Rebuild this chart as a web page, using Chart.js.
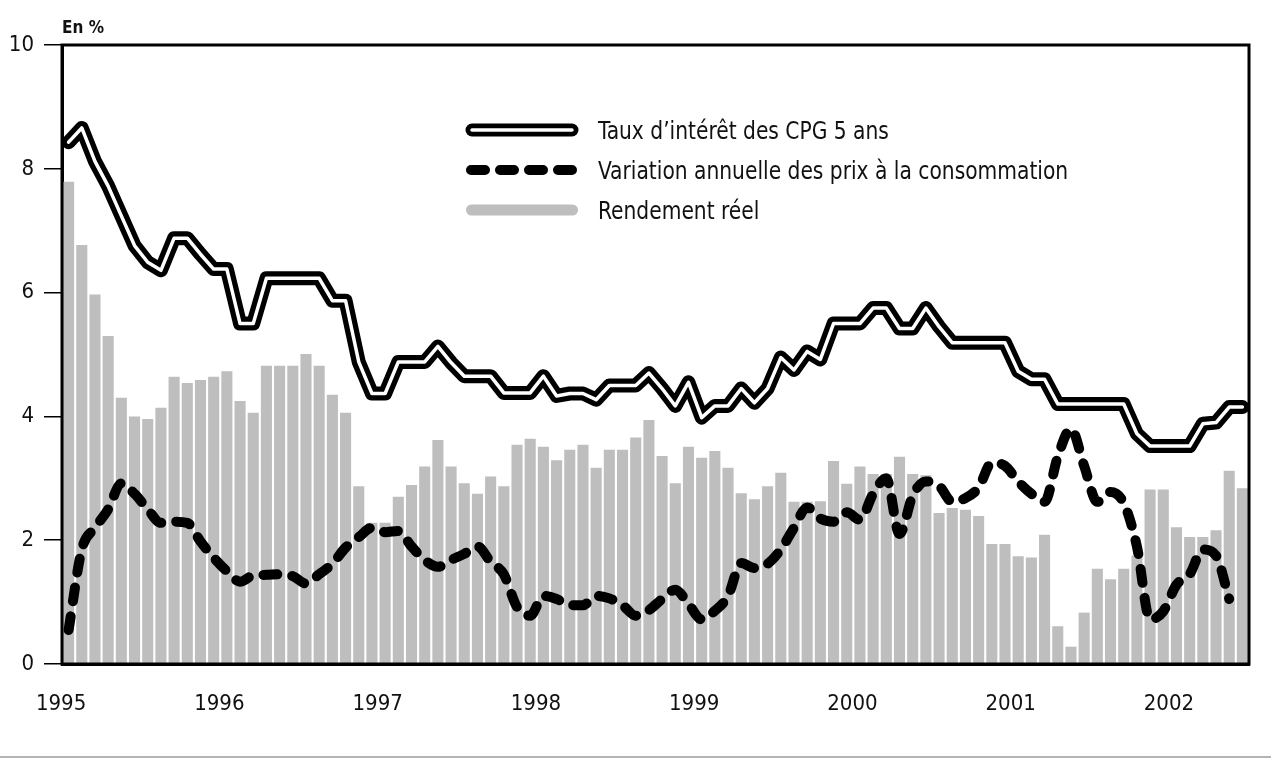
<!DOCTYPE html>
<html lang="fr">
<head>
<meta charset="utf-8">
<title>Taux des CPG 5 ans, inflation et rendement réel</title>
<script src="https://cdn.jsdelivr.net/npm/chart.js@4.4.1/dist/chart.umd.min.js"></script>
<style>
  html, body { margin: 0; padding: 0; background: #fff; }
  #wrap { position: relative; width: 1271px; height: 758px; overflow: hidden; }
  #chart { position: absolute; left: 0; top: 0; }
  .unit {
    position: absolute; left: 62px; top: 17px;
    font: bold 17px "DejaVu Sans Condensed", "Liberation Sans Narrow", sans-serif;
    color: #111;
  }
  .legend { position: absolute; left: 460px; top: 110px; }
  .legend .row { height: 40px; display: flex; align-items: center; }
  .legend svg { width: 126px; height: 40px; display: block; flex: none; }
  .legend span {
    display: inline-block;
    margin-left: 12px;
    font: 25px "DejaVu Sans Condensed", "Liberation Sans Narrow", sans-serif;
    color: #111; white-space: nowrap;
    transform: scaleX(0.9); transform-origin: left center;
  }
  .rule { position: absolute; left: 0; right: 0; bottom: 0; height: 2px; background: #b4b4b4; }
</style>
</head>
<body>
<div id="wrap">
  <canvas id="chart" width="1271" height="758"></canvas>
  <div class="unit">En %</div>
  <div class="legend">
    <div class="row">
      <svg viewBox="0 0 126 40">
        <line x1="12" y1="20" x2="112" y2="20" stroke="#000" stroke-width="13" stroke-linecap="round"/>
        <line x1="12" y1="20" x2="112" y2="20" stroke="#fff" stroke-width="3.5" stroke-linecap="round"/>
      </svg>
      <span>Taux d’intérêt des CPG 5 ans</span>
    </div>
    <div class="row">
      <svg viewBox="0 0 126 40">
        <line x1="11" y1="20" x2="113" y2="20" stroke="#000" stroke-width="10" stroke-linecap="round" stroke-dasharray="14 15"/>
      </svg>
      <span>Variation annuelle des prix à la consommation</span>
    </div>
    <div class="row">
      <svg viewBox="0 0 126 40">
        <line x1="11.5" y1="20" x2="112.5" y2="20" stroke="#bebebe" stroke-width="11" stroke-linecap="round"/>
      </svg>
      <span>Rendement réel</span>
    </div>
  </div>
  <div class="rule"></div>
</div>
<script>
// janvier 1995 à juin 2002, données mensuelles
const years = ["1995", "1996", "1997", "1998", "1999", "2000", "2001", "2002"];

const rendementReel = [
  7.79, 6.77, 5.97, 5.30, 4.30, 4.00, 3.96, 4.14, 4.64, 4.54, 4.59, 4.64,
  4.73, 4.25, 4.06, 4.82, 4.82, 4.82, 5.01, 4.82, 4.35, 4.06, 2.87, 2.28,
  2.28, 2.70, 2.89, 3.19, 3.62, 3.19, 2.92, 2.75, 3.03, 2.87, 3.54, 3.64,
  3.51, 3.29, 3.46, 3.54, 3.17, 3.46, 3.46, 3.66, 3.94, 3.36, 2.92, 3.51,
  3.33, 3.44, 3.17, 2.76, 2.66, 2.87, 3.09, 2.62, 2.62, 2.63, 3.28, 2.91,
  3.19, 3.07, 3.07, 3.35, 3.07, 3.05, 2.44, 2.52, 2.49, 2.39, 1.94, 1.94,
  1.74, 1.72, 2.09, 0.61, 0.28, 0.83, 1.54, 1.37, 1.54, 1.75, 2.82, 2.82,
  2.21, 2.05, 2.05, 2.16, 3.12, 2.84
];

const tauxCPG = [
  8.43, 8.66, 8.12, 7.72, 7.24, 6.76, 6.49, 6.36, 6.88, 6.88, 6.62, 6.38,
  6.38, 5.50, 5.50, 6.23, 6.23, 6.23, 6.23, 6.23, 5.87, 5.87, 4.88, 4.37,
  4.37, 4.88, 4.88, 4.88, 5.13, 4.87, 4.65, 4.65, 4.65, 4.38, 4.38, 4.38,
  4.65, 4.33, 4.37, 4.37, 4.27, 4.50, 4.50, 4.50, 4.70, 4.45, 4.17, 4.55,
  3.98, 4.17, 4.17, 4.45, 4.22, 4.45, 4.95, 4.75, 5.05, 4.92, 5.50, 5.50,
  5.50, 5.75, 5.75, 5.42, 5.42, 5.75, 5.45, 5.19, 5.19, 5.19, 5.19, 5.19,
  4.73, 4.60, 4.60, 4.20, 4.20, 4.20, 4.20, 4.20, 4.20, 3.72, 3.52, 3.52,
  3.52, 3.52, 3.88, 3.90, 4.15, 4.15
];

const variationPrix = [
  0.55, 1.85, 2.20, 2.50, 2.92, 2.75, 2.50, 2.28, 2.30, 2.28, 1.98, 1.72,
  1.50, 1.33, 1.43, 1.44, 1.45, 1.42, 1.30, 1.45, 1.62, 1.88, 2.05, 2.20,
  2.13, 2.15, 1.90, 1.68, 1.57, 1.68, 1.78, 1.90, 1.65, 1.45, 0.92, 0.78,
  1.10, 1.05, 0.95, 0.95, 1.10, 1.06, 0.95, 0.78, 0.87, 1.05, 1.20, 0.97,
  0.72, 0.86, 1.10, 1.63, 1.55, 1.62, 1.85, 2.20, 2.53, 2.35, 2.30, 2.45,
  2.33, 2.75, 3.00, 2.10, 2.72, 2.95, 2.88, 2.62, 2.68, 2.85, 3.25, 3.20,
  2.95, 2.75, 2.62, 3.35, 3.80, 3.20, 2.62, 2.78, 2.60, 1.90, 0.72, 0.85,
  1.28, 1.45, 1.85, 1.75, 1.05, null
];

const months = [];
years.forEach(y => {
  for (let m = 1; m <= 12; m++) months.push(y + "-" + String(m).padStart(2, "0"));
});
months.length = rendementReel.length;

const fontFamily = '"DejaVu Sans Condensed", "Liberation Sans Narrow", sans-serif';

// cadre noir autour de la zone de tracé
const frame = {
  id: "frame",
  afterDatasetsDraw(chart) {
    const { ctx, chartArea } = chart;
    ctx.save();
    ctx.strokeStyle = "#000";
    ctx.lineWidth = 3;
    ctx.strokeRect(chartArea.left, chartArea.top,
      chartArea.right - chartArea.left, chartArea.bottom - chartArea.top);
    ctx.restore();
  }
};

new Chart(document.getElementById("chart"), {
  type: "bar",
  data: {
    labels: months,
    datasets: [
      {
        type: "line",
        label: "filet",
        data: tauxCPG,
        borderColor: "#fff",
        borderWidth: 3.5,
        borderJoinStyle: "round",
        borderCapStyle: "round",
        pointRadius: 0,
        tension: 0,
        order: 0
      },
      {
        type: "line",
        label: "Taux d’intérêt des CPG 5 ans",
        data: tauxCPG,
        borderColor: "#000",
        borderWidth: 14,
        borderJoinStyle: "round",
        borderCapStyle: "round",
        pointRadius: 0,
        tension: 0,
        order: 1
      },
      {
        type: "line",
        label: "Variation annuelle des prix à la consommation",
        data: variationPrix,
        borderColor: "#000",
        borderWidth: 10,
        borderDash: [14, 15],
        borderCapStyle: "round",
        borderJoinStyle: "round",
        cubicInterpolationMode: "monotone",
        pointRadius: 0,
        order: 2
      },
      {
        label: "Rendement réel",
        data: rendementReel,
        backgroundColor: "#bebebe",
        borderWidth: 0,
        barPercentage: 0.84,
        categoryPercentage: 1,
        order: 3
      }
    ]
  },
  options: {
    responsive: false,
    animation: false,
    layout: { padding: { top: 45, right: 22, left: 0, bottom: 0 } },
    plugins: { legend: { display: false }, tooltip: { enabled: false } },
    scales: {
      x: {
        grid: { display: false, drawTicks: false },
        border: { display: true, color: "#000", width: 3 },
        ticks: {
          autoSkip: false,
          maxRotation: 0,
          labelOffset: -7.5,
          padding: 27,
          color: "#111",
          font: { family: fontFamily, size: 22 },
          callback: (v, i) => (i % 12 === 0 ? years[i / 12] : "")
        },
        afterFit: s => { s.height = 94; }
      },
      y: {
        min: 0,
        max: 10,
        ticks: {
          stepSize: 2,
          padding: 10,
          color: "#111",
          font: { family: fontFamily, size: 22 }
        },
        grid: { drawOnChartArea: false, tickLength: 18, color: "#000", lineWidth: 1.5 },
        border: { color: "#000", width: 3 },
        afterFit: s => { s.width = 62; }
      }
    }
  },
  plugins: [frame]
});
</script>
</body>
</html>
